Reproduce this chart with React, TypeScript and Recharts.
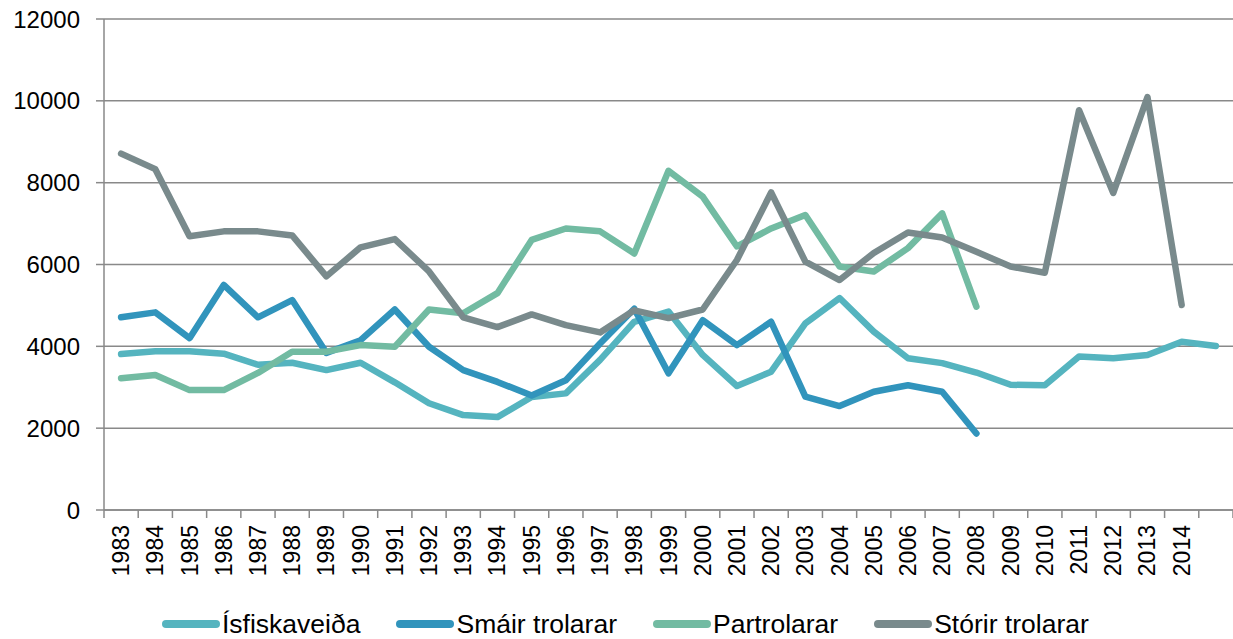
import React from 'react';
import {
  LineChart,
  Line,
  XAxis,
  YAxis,
  CartesianGrid,
  Legend,
} from 'recharts';

const years = [
  '1983', '1984', '1985', '1986', '1987', '1988', '1989', '1990', '1991', '1992', '1993',
  '1994', '1995', '1996', '1997', '1998', '1999', '2000', '2001', '2002', '2003', '2004',
  '2005', '2006', '2007', '2008', '2009', '2010', '2011', '2012', '2013', '2014', '',
];

const isfiskaveida = [
  3810, 3880, 3880, 3820, 3550, 3600, 3420, 3600, 3120, 2610, 2320,
  2270, 2760, 2850, 3670, 4600, 4850, 3790, 3030, 3380, 4560, 5180,
  4360, 3710, 3590, 3360, 3060, 3050, 3750, 3710, 3790, 4110, 4010,
];

const smairTrolarar = [
  4710, 4830, 4200, 5500, 4710, 5130, 3840, 4150, 4900, 3990, 3420,
  3130, 2800, 3170, 4070, 4920, 3340, 4640, 4030, 4600, 2770, 2540,
  2890, 3050, 2890, 1870, null, null, null, null, null, null, null,
];

const partrolarar = [
  3220, 3300, 2930, 2930, 3350, 3870, 3870, 4030, 3990, 4900, 4810,
  5300, 6600, 6880, 6810, 6270, 8290, 7660, 6440, 6880, 7210, 5950,
  5830, 6400, 7250, 4970, null, null, null, null, null, null, null,
];

const storirTrolarar = [
  8710, 8330, 6690, 6810, 6810, 6710, 5710, 6420, 6620, 5830, 4710,
  4470, 4780, 4520, 4340, 4880, 4690, 4900, 6110, 7760, 6070, 5620,
  6280, 6780, 6660, 6310, 5950, 5800, 9770, 7750, 10090, 5010, null,
];

const yTicks = [0, 2000, 4000, 6000, 8000, 10000, 12000];

const seriesList = [
  { key: 'isf', name: 'Ísfiskaveiða', color: '#55B4BF', values: isfiskaveida },
  { key: 'sma', name: 'Smáir trolarar', color: '#3194BC', values: smairTrolarar },
  { key: 'par', name: 'Partrolarar', color: '#72BBA2', values: partrolarar },
  { key: 'sto', name: 'Stórir trolarar', color: '#798A8C', values: storirTrolarar },
];

const data = years.map((year, i) => {
  const row: Record<string, any> = { year };
  seriesList.forEach((s) => {
    row[s.key] = s.values[i];
  });
  return row;
});

const CHART_W = 1233;
const CHART_H = 639;
const Y_AXIS_W = 104;
const FONT = '"Liberation Sans", Arial, sans-serif';
const AXIS_COLOR = '#898989';
const BAND = (CHART_W - Y_AXIS_W) / years.length;

const YearTick = (props: any) => {
  const { x, y, payload, index } = props;
  const ty = y + 15;
  return (
    <g>
      <line x1={x - BAND / 2} y1={y} x2={x - BAND / 2} y2={y + 8} stroke={AXIS_COLOR} strokeWidth={1.5} />
      {index === years.length - 1 && (
        <line x1={x + BAND / 2} y1={y} x2={x + BAND / 2} y2={y + 8} stroke={AXIS_COLOR} strokeWidth={1.5} />
      )}
      <text
        x={x}
        y={ty}
        transform={`rotate(-90, ${x}, ${ty})`}
        textAnchor="end"
        dominantBaseline="central"
        fontSize={23}
        fontFamily={FONT}
        fill="#000"
      >
        {payload.value}
      </text>
    </g>
  );
};

const LegendRow = () => (
  <div
    style={{
      display: 'flex',
      alignItems: 'center',
      height: 30,
      paddingLeft: 162,
      fontFamily: FONT,
      fontSize: 26.5,
      color: '#000',
    }}
  >
    {seriesList.map((s) => (
      <div key={s.key} style={{ display: 'flex', alignItems: 'center', marginRight: 36 }}>
        <span
          style={{
            display: 'inline-block',
            width: 58,
            height: 8,
            borderRadius: 4,
            background: s.color,
            marginRight: 2,
          }}
        />
        <span>{s.name}</span>
      </div>
    ))}
  </div>
);

export default function App() {
  return (
    <div style={{ position: 'absolute', left: 0, top: 0, width: CHART_W, height: CHART_H, background: '#fff' }}>
      <LineChart width={CHART_W} height={CHART_H} data={data} margin={{ top: 19, right: 0, bottom: 0, left: 0 }}>
        <CartesianGrid vertical={false} stroke={AXIS_COLOR} strokeWidth={1.5} />
        <XAxis
          dataKey="year"
          scale="band"
          interval={0}
          height={99}
          axisLine={{ stroke: AXIS_COLOR, strokeWidth: 1.5 }}
          tickLine={false}
          tickSize={0}
          tickMargin={0}
          tick={<YearTick />}
        />
        <YAxis
          width={Y_AXIS_W}
          domain={[0, 12000]}
          ticks={yTicks}
          interval={0}
          axisLine={{ stroke: AXIS_COLOR, strokeWidth: 1.5 }}
          tickLine={{ stroke: AXIS_COLOR, strokeWidth: 1.5 }}
          tickSize={8}
          tickMargin={16}
          tick={{ fontSize: 24, fontFamily: FONT, fill: '#000' }}
        />
        <Legend
          verticalAlign="bottom"
          height={30}
          wrapperStyle={{ left: 0, width: CHART_W, bottom: 0 }}
          content={() => <LegendRow />}
        />
        {seriesList.map((s) => (
          <Line
            key={s.key}
            type="linear"
            dataKey={s.key}
            name={s.name}
            stroke={s.color}
            strokeWidth={6.5}
            strokeLinecap="round"
            strokeLinejoin="round"
            dot={false}
            activeDot={false}
            isAnimationActive={false}
          />
        ))}
      </LineChart>
    </div>
  );
}
